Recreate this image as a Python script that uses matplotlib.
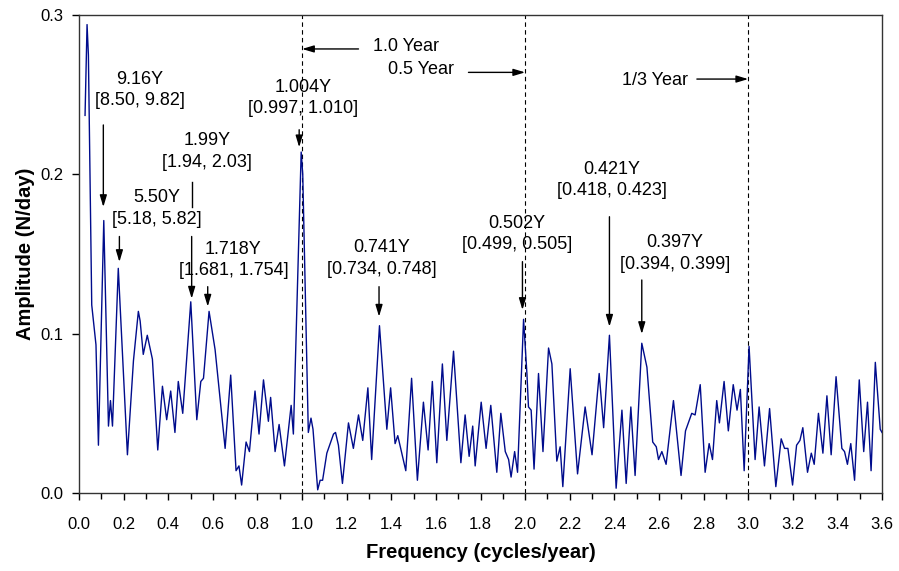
import matplotlib
matplotlib.use("Agg")
import matplotlib.pyplot as plt
import numpy as np
from matplotlib.ticker import MultipleLocator, FormatStrFormatter

plt.rcParams["font.family"] = ["Liberation Sans", "DejaVu Sans"]

# spectrum: (frequency in cycles/year, amplitude in N/day)
freq = [0.027, 0.036, 0.042, 0.057, 0.076, 0.087, 0.111, 0.132, 0.141, 0.150,
        0.176, 0.217, 0.244, 0.266, 0.274, 0.288, 0.306, 0.329, 0.353, 0.374,
        0.393, 0.411, 0.430, 0.445, 0.465, 0.501, 0.528, 0.546, 0.558, 0.583,
        0.610, 0.655, 0.680, 0.704, 0.717, 0.729, 0.749, 0.764, 0.789, 0.807,
        0.827, 0.849, 0.859, 0.879, 0.897, 0.921, 0.951, 0.961, 0.996, 1.003,
        1.028, 1.040, 1.049, 1.070, 1.081, 1.092, 1.111, 1.141, 1.150, 1.163,
        1.181, 1.208, 1.230, 1.253, 1.272, 1.295, 1.312, 1.347, 1.380, 1.397,
        1.417, 1.429, 1.465, 1.491, 1.517, 1.544, 1.565, 1.584, 1.604, 1.629,
        1.649, 1.679, 1.712, 1.731, 1.749, 1.765, 1.776, 1.803, 1.825, 1.846,
        1.873, 1.891, 1.911, 1.926, 1.937, 1.953, 1.966, 1.993, 2.008, 2.015,
        2.027, 2.040, 2.060, 2.080, 2.105, 2.120, 2.142, 2.157, 2.169, 2.202,
        2.235, 2.269, 2.300, 2.332, 2.352, 2.378, 2.408, 2.434, 2.453, 2.474,
        2.493, 2.523, 2.546, 2.572, 2.588, 2.598, 2.613, 2.632, 2.665, 2.699,
        2.719, 2.747, 2.762, 2.785, 2.807, 2.825, 2.840, 2.859, 2.871, 2.892,
        2.911, 2.933, 2.950, 2.965, 2.982, 3.004, 3.031, 3.049, 3.073, 3.096,
        3.124, 3.148, 3.163, 3.178, 3.199, 3.217, 3.232, 3.245, 3.266, 3.283,
        3.296, 3.315, 3.335, 3.353, 3.372, 3.394, 3.420, 3.432, 3.445, 3.460,
        3.477, 3.498, 3.518, 3.535, 3.551, 3.570, 3.592, 3.600]
amp = [0.237, 0.294, 0.275, 0.118, 0.093, 0.030, 0.171, 0.042, 0.058, 0.042,
       0.141, 0.024, 0.083, 0.114, 0.108, 0.087, 0.099, 0.084, 0.027, 0.067,
       0.046, 0.064, 0.038, 0.070, 0.050, 0.120, 0.046, 0.070, 0.072, 0.114,
       0.090, 0.028, 0.074, 0.014, 0.017, 0.005, 0.032, 0.026, 0.064, 0.037,
       0.071, 0.045, 0.060, 0.026, 0.043, 0.017, 0.055, 0.037, 0.214, 0.200,
       0.038, 0.047, 0.040, 0.002, 0.008, 0.008, 0.025, 0.037, 0.038, 0.030,
       0.006, 0.044, 0.028, 0.049, 0.033, 0.066, 0.021, 0.105, 0.040, 0.066,
       0.031, 0.036, 0.014, 0.072, 0.008, 0.057, 0.027, 0.070, 0.019, 0.081,
       0.033, 0.089, 0.019, 0.049, 0.023, 0.042, 0.017, 0.057, 0.028, 0.055,
       0.013, 0.050, 0.026, 0.021, 0.010, 0.026, 0.013, 0.109, 0.075, 0.054,
       0.052, 0.015, 0.075, 0.026, 0.091, 0.081, 0.020, 0.029, 0.004, 0.078,
       0.012, 0.054, 0.024, 0.075, 0.041, 0.099, 0.003, 0.052, 0.006, 0.054,
       0.011, 0.094, 0.079, 0.032, 0.029, 0.021, 0.026, 0.018, 0.058, 0.011,
       0.039, 0.050, 0.049, 0.068, 0.013, 0.031, 0.021, 0.058, 0.044, 0.070,
       0.039, 0.068, 0.052, 0.065, 0.014, 0.092, 0.021, 0.054, 0.017, 0.053,
       0.004, 0.034, 0.028, 0.028, 0.005, 0.030, 0.033, 0.041, 0.013, 0.025,
       0.018, 0.050, 0.025, 0.061, 0.024, 0.073, 0.028, 0.026, 0.018, 0.031,
       0.008, 0.071, 0.026, 0.057, 0.014, 0.082, 0.040, 0.038]

# period labels: text, text centre (f, a), arrow start, arrow tip
peak_labels = ["9.16Y\n[8.50, 9.82]", "5.50Y\n[5.18, 5.82]", "1.99Y\n[1.94, 2.03]",
               "1.718Y\n[1.681, 1.754]", "1.004Y\n[0.997, 1.010]",
               "0.741Y\n[0.734, 0.748]", "0.502Y\n[0.499, 0.505]",
               "0.421Y\n[0.418, 0.423]", "0.397Y\n[0.394, 0.399]"]
label_pos = [(0.274, 0.253), (0.348, 0.1785), (0.573, 0.2143), (0.692, 0.1463),
             (1.004, 0.248), (1.357, 0.1473), (1.963, 0.1625), (2.389, 0.1965),
             (2.672, 0.1503)]
arrow_from = [(0.109, 0.231), (0.181, 0.161), (0.505, 0.161), (0.577, 0.1295),
              (0.987, 0.228), (1.345, 0.1295), (1.988, 0.1452), (2.378, 0.1734),
              (2.523, 0.1337)]
arrow_to = [(0.109, 0.1795), (0.181, 0.145), (0.505, 0.122), (0.577, 0.117),
            (0.987, 0.217), (1.345, 0.1107), (1.988, 0.1149), (2.378, 0.1044),
            (2.523, 0.0998)]

# reference periods marked with dashed lines
ref_freq = [1.0, 2.0, 3.0]
ref_labels = ["1.0 Year", "0.5 Year", "1/3 Year"]
ref_text_pos = [(1.318, 0.280), (1.387, 0.2655), (2.434, 0.259)]
ref_arrow_from = [(1.253, 0.2787), (1.746, 0.264), (2.770, 0.2598)]

fig = plt.figure(figsize=(8.99, 5.71), dpi=100)
ax = fig.add_axes([0.0879, 0.1366, 0.8932, 0.8371])

ax.plot(freq, amp, color="#000c8c", lw=1.0, zorder=3)

for f in ref_freq:
    ax.axvline(f, color="k", lw=0.8, ls=(0, (4, 3)), zorder=2)

arrow_kw = dict(arrowstyle="-|>,head_length=0.5,head_width=0.15", color="k",
                lw=1.0, mutation_scale=14, shrinkA=0, shrinkB=0)

for txt, pos, a0, a1 in zip(peak_labels, label_pos, arrow_from, arrow_to):
    ax.text(*pos, txt, ha="center", va="center", fontsize=13, linespacing=1.35)
    ax.annotate("", xy=a1, xytext=a0, arrowprops=arrow_kw)

# the 1.99Y arrow is broken around the 5.50Y label
ax.plot([0.505, 0.505], [0.1954, 0.1797], color="k", lw=1.0)

for txt, pos, a0, f in zip(ref_labels, ref_text_pos, ref_arrow_from, ref_freq):
    ax.text(*pos, txt, ha="left", va="center", fontsize=13)
    ax.annotate("", xy=(f, a0[1]), xytext=a0, arrowprops=arrow_kw)

ax.set_xlim(0, 3.6)
ax.set_ylim(0, 0.3)
ax.xaxis.set_major_locator(MultipleLocator(0.2))
ax.xaxis.set_minor_locator(MultipleLocator(0.1))
ax.yaxis.set_major_locator(MultipleLocator(0.1))
ax.xaxis.set_major_formatter(FormatStrFormatter("%.1f"))
ax.yaxis.set_major_formatter(FormatStrFormatter("%.1f"))
ax.tick_params(axis="x", which="major", length=5, width=1, pad=12, labelsize=12)
ax.tick_params(axis="x", which="minor", length=4, width=1)
ax.tick_params(axis="y", which="major", length=5, width=1, pad=6, labelsize=12)
for s in ax.spines.values():
    s.set_color("#333333")
    s.set_linewidth(1.0)

ax.set_xlabel("Frequency (cycles/year)", fontsize=14.5, fontweight="bold", labelpad=8)
ax.set_ylabel("Amplitude (N/day)", fontsize=14.5, fontweight="bold", labelpad=4)

fig.savefig("out.png", dpi=100)
